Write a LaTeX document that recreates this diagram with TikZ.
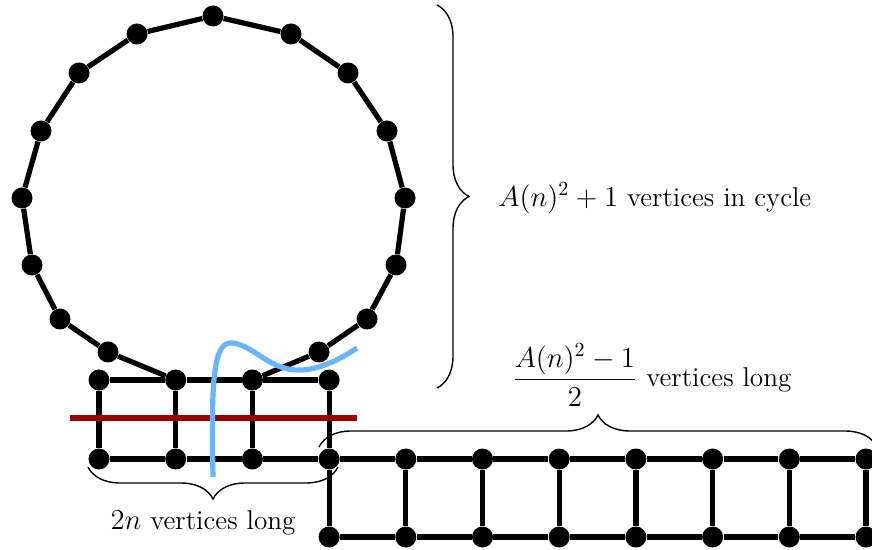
\documentclass[tikz,border=0pt]{standalone}
\usepackage{amsmath}
\usepackage{tikz}
\usetikzlibrary{positioning, calc, decorations.pathreplacing}

\definecolor{cutred}{HTML}{990000}
\definecolor{pathblue}{HTML}{6AB4FF}

\begin{document}
\begin{tikzpicture}[x=0.5pt, y=-0.5pt,
        vert/.style={circle, fill=black, inner sep=0pt, minimum size=10.5pt},
        link/.style={line width=2.6pt},
        label/.style={font=\fontsize{13.6}{16}\selectfont, inner sep=0pt},
        curly/.style={decorate, decoration={brace, amplitude=16pt}, line width=0.7pt}]

    \useasboundingbox (0,0) rectangle (872,550);

    % Ciclo
    \foreach \n/\x/\y in {c0/213/16, c1/291/34, c2/348/73, c3/387/131, c4/405/198,
            c5/396/265, c6/367/319, c7/319/352, c8/108/352, c9/60/319, c10/32/265,
            c11/22/198, c12/41/131, c13/79/73, c14/137/34}
        \node (\n) [vert] at (\x,\y) {};

    % Grade e escada
    \foreach \i in {1,...,4}
        \node (t\i) [vert] at ({99+76.7*(\i-1)},380) {};
    \foreach \i in {1,...,11}
        \node (m\i) [vert] at ({99+76.7*(\i-1)},459) {};
    \foreach \i in {4,...,11}
        \node (d\i) [vert] at ({99+76.7*(\i-1)},537) {};

    % Arestas
    \draw[link] (c0) -- (c1) -- (c2) -- (c3) -- (c4) -- (c5) -- (c6) -- (c7) -- (t3);
    \draw[link] (t2) -- (c8) -- (c9) -- (c10) -- (c11) -- (c12) -- (c13) -- (c14) -- (c0);
    \foreach \i [count=\j from 2] in {1,...,3}
        \draw[link] (t\i) -- (t\j);
    \foreach \i in {1,...,4}
        \draw[link] (t\i) -- (m\i);
    \foreach \i [count=\j from 2] in {1,...,10}
        \draw[link] (m\i) -- (m\j);
    \foreach \i in {4,...,11}
        \draw[link] (m\i) -- (d\i);
    \foreach \i [count=\j from 5] in {4,...,10}
        \draw[link] (d\i) -- (d\j);

    % Cortes
    \draw[cutred, line width=2.8pt] (70,418) -- (357,418);
    \draw[pathblue, line width=2.6pt] (213,477) .. controls (211,380) and (213,340) .. (233,343)
        .. controls (255,346) and (270,372) .. (303,370)
        .. controls (325,368) and (345,356) .. (357,348);

    % Chaves
    \draw[curly] (437,5) -- (437,388);
    \draw[curly] (319,447) -- (877,447);
    \draw[curly] (338,467) -- (88,467);

    \node (cyclelbl) [label, anchor=west] at (498,198) {$A(n)^2+1$ vertices in cycle};
    \node (ladderlbl) [label, anchor=west] at (512,375) {$\dfrac{A(n)^2-1}{2}$ vertices long};
    \node (gridlbl) [label] at (203,523) {$2n$ vertices long};

\end{tikzpicture}
\end{document}
